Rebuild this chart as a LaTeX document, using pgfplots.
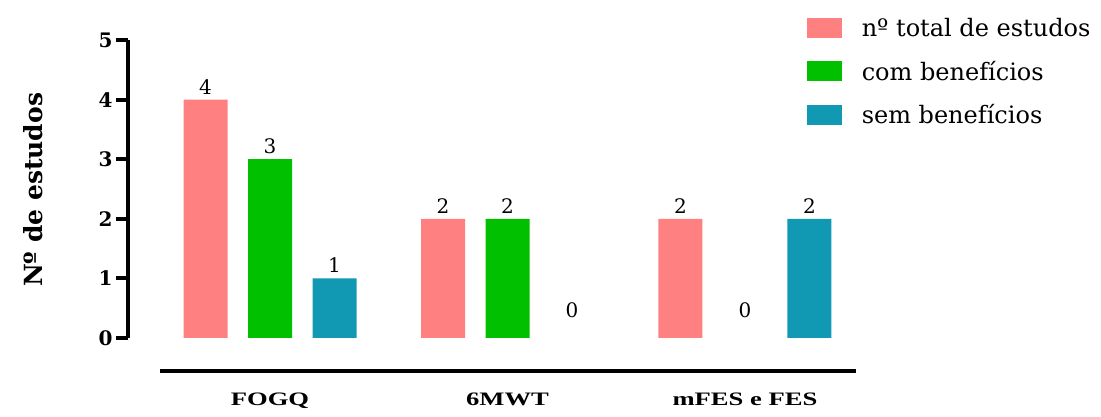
\documentclass[border=0pt]{standalone}
\usepackage{fontspec}
\setmainfont{DejaVu Serif}
\newfontfamily\timesfont[FakeStretch=1.4]{Liberation Serif}
\usepackage{pgfplots}
\pgfplotsset{compat=1.18}
\definecolor{cpink}{RGB}{255,128,128}
\definecolor{cgreen}{RGB}{0,192,0}
\definecolor{cblue}{RGB}{17,153,179}
\begin{document}
\begin{tikzpicture}
\begin{axis}[
  scale only axis, width=696pt, height=298pt,
  xmin=-0.4632, xmax=2.4674, ymin=0, ymax=5,
  axis x line=bottom, axis y line=left,
  x axis line style={-, line width=4pt},
  y axis line style={-, line width=4pt},
  axis x line shift=33pt, axis y line shift=32pt,
  ytick={0,1,2,3,4,5},
  ytick style={line width=4pt, black},
  major tick length=12pt, tick align=outside,
  xtick={0,1,2}, xticklabels={FOGQ,6MWT,mFES e FES},
  xtick style={draw=none},
  x tick label style={font=\timesfont\bfseries\fontsize{19}{23}\selectfont, yshift=-6pt},
  y tick label style={font=\bfseries\fontsize{20}{24}\selectfont},
  /pgf/number format/assume math mode=true,
  every axis y label/.style={at={(rel axis cs:-0.1825,0.497)},rotate=90,anchor=center,font=\bfseries\fontsize{25}{30}\selectfont},
  ylabel={Nº de estudos},
  ybar, bar width=44pt,
  clip=false,
  nodes near coords,
  every node near coord/.append style={font=\fontsize{20}{24}\selectfont, anchor=south, yshift=2pt},
  legend style={at={(rel axis cs:0.929,1.075)}, anchor=north west, draw=none, fill=none,
    font=\fontsize{24}{28}\selectfont, row sep=23pt, inner sep=0pt,
    nodes={inner sep=0pt},
    /tikz/every odd column/.append style={column sep=20pt}},
  legend cell align=left,
  legend image code/.code={\fill[#1] (0pt,-10pt) rectangle (35pt,10pt);},
]
\addplot[fill=cpink, draw=none, bar shift=-64.5pt] coordinates {(0,4) (1,2) (2,2)};
\addplot[fill=cgreen, draw=none, bar shift=0pt] coordinates {(0,3) (1,2)};
\addplot[fill=cblue, draw=none, bar shift=64.5pt] coordinates {(0,1) (2,2)};
\addplot[fill=none, draw=none, bar shift=0pt, forget plot,
  every node near coord/.append style={yshift=15pt}] coordinates {(2,0)};
\addplot[fill=none, draw=none, bar shift=64.5pt, forget plot,
  every node near coord/.append style={yshift=15pt}] coordinates {(1,0)};
\legend{nº total de estudos, com benefícios, sem benefícios}
\coordinate (O) at (rel axis cs:0,0);
\end{axis}
\pgfresetboundingbox
\path[use as bounding box] ([shift={(-160pt,-79pt)}]O) rectangle ([shift={(941pt,338pt)}]O);
\end{tikzpicture}
\end{document}
